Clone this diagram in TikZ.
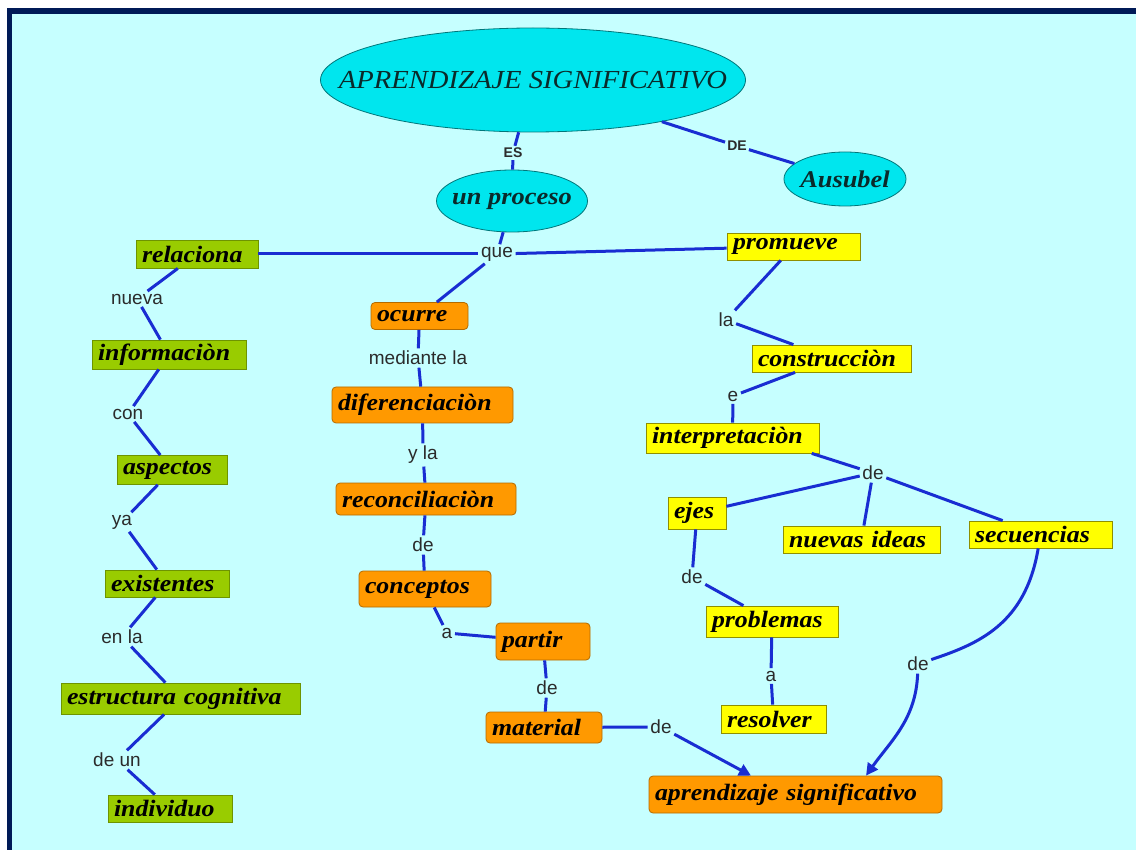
\documentclass[tikz,border=0pt]{standalone}
\usepackage{fontspec}
\setmainfont{Liberation Serif}
\newfontfamily\cfont[FakeStretch=1.1]{Liberation Serif}
\newfontfamily\labfont{Liberation Sans}
\usetikzlibrary{arrows.meta,shapes.geometric}
\definecolor{bg}{HTML}{C6FFFF}
\definecolor{navy}{HTML}{001A57}
\definecolor{lineblue}{RGB}{25,45,210}
\definecolor{gfill}{HTML}{99CC00}
\definecolor{gdraw}{HTML}{6E9400}
\definecolor{yfill}{HTML}{FFFF00}
\definecolor{ydraw}{HTML}{8F8F00}
\definecolor{ofill}{HTML}{FF9900}
\definecolor{odraw}{HTML}{B36B00}
\definecolor{cfill}{HTML}{00E6EE}
\definecolor{cdraw}{HTML}{00777A}
\definecolor{ctext}{HTML}{0A2A2A}
\definecolor{ltext}{HTML}{2B2B2B}
\begin{document}
\begin{tikzpicture}[x=1pt,y=-1pt,
  concept/.style={font=\cfont\fontsize{23.5}{26}\selectfont\bfseries\itshape, inner xsep=6pt, inner ysep=0pt, align=left, line width=0.8pt, text=black},
  gbox/.style={concept, fill=gfill, draw=gdraw},
  ybox/.style={concept, fill=yfill, draw=ydraw},
  obox/.style={concept, fill=ofill, draw=odraw, rounded corners=4pt},
  oval/.style={ellipse, fill=cfill, draw=cdraw, line width=0.8pt, inner sep=0pt, text=ctext, font=\cfont\fontsize{24}{26}\selectfont\bfseries\itshape},
  lab/.style={font=\labfont\fontsize{19}{21}\selectfont, text=ltext, inner sep=2.5pt},
  labb/.style={font=\labfont\bfseries\fontsize{14}{16}\selectfont, text=ltext, inner sep=2pt},
  conn/.style={draw=lineblue, line width=3pt},
  arr/.style={conn, -{Triangle[length=12pt,width=12pt]}}
]
\useasboundingbox (0,0) rectangle (1136,850);
\fill[white] (0,0) rectangle (1136,850);
\fill[bg] (12,14) rectangle (1136,850);
\fill[navy] (7,8) rectangle (1136,14);
\fill[navy] (7,8) rectangle (12,850);

% ellipses
\node[oval, minimum width=425pt, minimum height=104pt, font=\cfont\fontsize{26}{28}\selectfont\itshape] (main) at (533,80) {\makebox[0pt]{APRENDIZAJE SIGNIFICATIVO}};
\node[oval, minimum width=151pt, minimum height=62pt] (proc) at (512,201) {\makebox[0pt]{un proceso}};
\node[oval, minimum width=122pt, minimum height=54pt] (aus) at (845,179) {\makebox[0pt]{Ausubel}};

% green column
\node[gbox, text width=110pt, minimum height=28pt] (rel) at (197,254) {relaciona};
\node[gbox, text width=142pt, minimum height=29pt] (inf) at (169,354.5) {informaciòn};
\node[gbox, text width=98pt, minimum height=29pt] (asp) at (172,470) {aspectos};
\node[gbox, text width=112pt, minimum height=27pt] (exi) at (167,583.5) {existentes};
\node[gbox, text width=227pt, minimum height=31pt] (est) at (180.5,698.5) {estructura cognitiva};
\node[gbox, text width=112pt, minimum height=27pt] (ind) at (170,808.5) {individuo};

% orange column
\node[obox, text width=85pt, minimum height=27pt] (ocu) at (419.5,316) {ocurre};
\node[obox, text width=169pt, minimum height=36pt] (dif) at (422.5,405) {diferenciaciòn};
\node[obox, text width=168pt, minimum height=32pt] (rec) at (426,499) {reconciliaciòn};
\node[obox, text width=120pt, minimum height=36pt] (conc) at (425,589) {conceptos};
\node[obox, text width=82pt, minimum height=37pt] (par) at (543,641.5) {partir};
\node[obox, text width=104pt, minimum height=31pt] (mat) at (544,727.5) {material};
\node[obox, text width=281pt, minimum height=37pt] (apr) at (795.5,794.5) {aprendizaje significativo};

% yellow column
\node[ybox, text width=121pt, minimum height=27pt] (pro) at (793.5,246.5) {promueve};
\node[ybox, text width=147pt, minimum height=27pt] (cons) at (831.5,358.5) {construcciòn};
\node[ybox, text width=161pt, minimum height=30pt] (int) at (732.5,438) {interpretaciòn};
\node[ybox, text width=46pt, minimum height=32pt] (eje) at (697,513) {ejes};
\node[ybox, text width=145pt, minimum height=27pt] (nue) at (861.5,539.5) {nuevas ideas};
\node[ybox, text width=131pt, minimum height=27pt] (sec) at (1040.5,534.5) {secuencias};
\node[ybox, text width=120pt, minimum height=31pt] (prob) at (772,621.5) {problemas};
\node[ybox, text width=93pt, minimum height=28pt] (res) at (773.5,719) {resolver};

% linking labels
\node[labb] (es) at (513,153) {ES};
\node[labb] (deA) at (737,146) {DE};
\node[lab] (que) at (497,254) {que};
\node[lab] (lNueva) at (137,299) {nueva};
\node[lab] (lCon) at (128,414) {con};
\node[lab] (lYa) at (122,522) {ya};
\node[lab] (lEnla) at (122,637) {en la};
\node[lab] (lDeun) at (117,760) {de un};
\node[lab] (lMed) at (418,358) {mediante la};
\node[lab] (lYla) at (423,455) {y la};
\node[lab] (lDeC) at (423,545) {de};
\node[lab] (lA) at (447,633) {a};
\node[lab] (lDeP) at (547,688) {de};
\node[lab] (lDeM) at (661,727) {de};
\node[lab] (lLa) at (726,320) {la};
\node[lab] (lE) at (733,396) {e};
\node[lab] (lDeH) at (873,473) {de};
\node[lab] (lDeE) at (692,577) {de};
\node[lab] (lAR) at (771,676) {a};
\node[lab] (lDeS) at (918,664) {de};

% connectors
\draw[conn] (main) -- (es);
\draw[conn] (es) -- (proc);
\draw[conn] (main) -- (deA);
\draw[conn] (deA) -- (aus);
\draw[conn] (proc) -- (que);
\draw[conn] (rel) -- (que);
\draw[conn] (que) -- (pro);
\draw[conn] (que) -- (ocu);
\draw[conn] (rel) -- (lNueva);
\draw[conn] (lNueva) -- (inf);
\draw[conn] (inf) -- (lCon);
\draw[conn] (lCon) -- (asp);
\draw[conn] (asp) -- (lYa);
\draw[conn] (lYa) -- (exi);
\draw[conn] (exi) -- (lEnla);
\draw[conn] (lEnla) -- (est);
\draw[conn] (est) -- (lDeun);
\draw[conn] (lDeun) -- (ind);
\draw[conn] (ocu) -- (lMed);
\draw[conn] (lMed) -- (dif);
\draw[conn] (dif) -- (lYla);
\draw[conn] (lYla) -- (rec);
\draw[conn] (rec) -- (lDeC);
\draw[conn] (lDeC) -- (conc);
\draw[conn] (conc) -- (lA);
\draw[conn] (lA) -- (par);
\draw[conn] (par) -- (lDeP);
\draw[conn] (lDeP) -- (mat);
\draw[conn] (mat) -- (lDeM);
\draw[arr] (lDeM) -- (apr.157);
\draw[conn] (pro) -- (lLa);
\draw[conn] (lLa) -- (cons);
\draw[conn] (cons) -- (lE);
\draw[conn] (lE) -- (int);
\draw[conn] (int.-11) -- (lDeH);
\draw[conn] (lDeH) -- (eje);
\draw[conn] (lDeH) -- (nue);
\draw[conn] (lDeH) -- (sec);
\draw[conn] (eje) -- (lDeE);
\draw[conn] (lDeE) -- (prob);
\draw[conn] (prob) -- (lAR);
\draw[conn] (lAR) -- (res);
\draw[conn] (sec) .. controls +(-15,90) and +(60,-20) .. (lDeS);
\draw[arr] (lDeS) .. controls +(-2,55) and +(25,-35) .. (apr.15);
\end{tikzpicture}
\end{document}
